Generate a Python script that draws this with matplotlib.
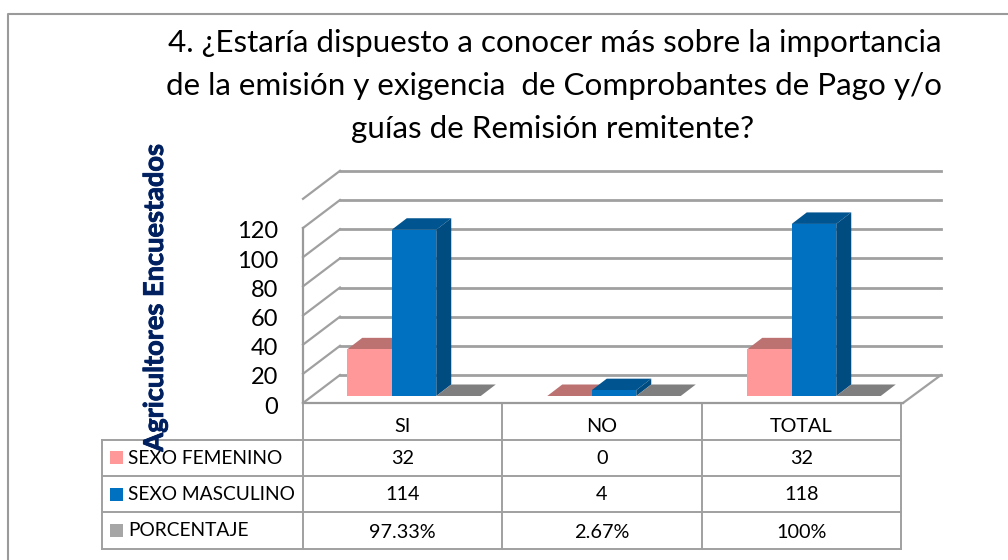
import matplotlib
matplotlib.use('Agg')
import matplotlib.pyplot as plt
import matplotlib.patheffects as pe
from matplotlib.patches import Polygon, Rectangle
from matplotlib.transforms import ScaledTranslation

plt.rcParams['font.family'] = ['Lato', 'DejaVu Sans']

categorias = ['SI', 'NO', 'TOTAL']
femenino = [32, 0, 32]
masculino = [114, 4, 118]
porcentaje = [0, 0, 0]
porcentaje_txt = ['97.33%', '2.67%', '100%']
series = ['SEXO FEMENINO', 'SEXO MASCULINO', 'PORCENTAJE']
ticks = [0, 20, 40, 60, 80, 100, 120]
titulo = ['4. ¿Estaría dispuesto a conocer más sobre la importancia',
          'de la emisión y exigencia  de Comprobantes de Pago y/o',
          'guías de Remisión remitente?']

# caras de cada serie: frente, arriba, lado
colores = [('#FF9999', '#BD7272', '#BD7272'),
           ('#0070C0', '#005490', '#004B80'),
           ('#A6A6A6', '#7F7F7F', '#7F7F7F')]

fig = plt.figure(figsize=(10.08, 5.6), dpi=100)

# capa en pixeles para titulo y tabla
fondo = fig.add_axes([0, 0, 1, 1])
fondo.set_xlim(0, 1008)
fondo.set_ylim(560, 0)
fondo.axis('off')

ax = fig.add_axes([303/1008, (560-403)/560, 600/1008, 175/560])
ax.set_xlim(0, 3)
ax.set_ylim(0, 120)
ax.patch.set_alpha(0)
for lado in ['top', 'right']:
    ax.spines[lado].set_visible(False)
for lado in ['left', 'bottom']:
    ax.spines[lado].set_color('#9A9A9A')
    ax.spines[lado].set_linewidth(1.6)
ax.set_xticks([])
ax.set_yticks(ticks)
ax.tick_params(axis='y', length=0, pad=18, labelsize=17, labelcolor='#000000')
bajar = ScaledTranslation(0, -2/100, fig.dpi_scale_trans)
for etiqueta in ax.get_yticklabels():
    etiqueta.set_verticalalignment('center_baseline')
    etiqueta.set_transform(etiqueta.get_transform() + bajar)

px_x = 3/600
px_y = 120/175
gris = '#A0A0A0'

# marco del grafico
fondo.plot([8, 8, 1008], [560, 14, 14], color='#9A9A9A', lw=1.5)

# rejilla con fondo y piso
for t in ticks + [140]:
    ax.plot([0, 37*px_x], [t, t + 28*px_y], color=gris, lw=1.6, clip_on=False, zorder=1)
    ax.plot([37*px_x, 3 + 38*px_x], [t + 28*px_y, t + 28*px_y], color=gris, lw=2, clip_on=False, zorder=1)
ax.plot([3, 3 + 38*px_x], [0, 28*px_y], color=gris, lw=1.6, clip_on=False, zorder=1)

# barras 3d
ancho = 44.5*px_x
base = 7*px_y
dx = 15*px_x
dy = 11.5*px_y
for i in range(len(categorias)):
    valores = [femenino[i], masculino[i], porcentaje[i]]
    izq = i + 0.5 + 11*px_x - 1.5*ancho
    for s in range(3):
        x0 = izq + s*ancho
        v = valores[s]
        ct, cs = colores[s][1], colores[s][2]
        z = 3 + s
        ax.add_patch(Polygon([(x0, base+v), (x0+ancho, base+v), (x0+ancho+dx, base+v+dy), (x0+dx, base+v+dy)],
                             fc=ct, ec='none', clip_on=False, zorder=z))
        if v > 0:
            ax.add_patch(Polygon([(x0+ancho, base), (x0+ancho+dx, base+dy), (x0+ancho+dx, base+v+dy), (x0+ancho, base+v)],
                                 fc=cs, ec='none', clip_on=False, zorder=z))
            ax.add_patch(Rectangle((x0, base), ancho, v, fc=colores[s][0], ec='none', clip_on=False, zorder=z))

# titulo
y_titulo = [43, 86, 129]
x_titulo = [555, 554, 553]
for linea, x, y in zip(titulo, x_titulo, y_titulo):
    fondo.text(x, y, linea, ha='center', va='center', fontsize=22.6, color='#000000')

fondo.text(155, 298, 'Agricultores Encuestados', rotation=90, ha='center', va='center',
           fontsize=19.6, fontweight='bold', color='#002060', zorder=5,
           path_effects=[pe.withStroke(linewidth=0.6, foreground='#002060')])

# tabla
col_x = [303, 502, 702, 901]
filas_y = [440, 476, 512, 549]
for y in filas_y:
    fondo.plot([102, col_x[-1]], [y, y], color=gris, lw=1.4)
fondo.plot([102, 102], [filas_y[0], filas_y[-1]], color=gris, lw=1.4)
for x in col_x:
    fondo.plot([x, x], [403, filas_y[-1]], color=gris, lw=1.4)

for i, c in enumerate(categorias):
    cx = (col_x[i] + col_x[i+1]) / 2
    fondo.text(cx, 427, c, ha='center', va='center', fontsize=14.3, color='#000000')
    fondo.text(cx, 459, str(femenino[i]), ha='center', va='center', fontsize=14.3, color='#000000')
    fondo.text(cx, 495, str(masculino[i]), ha='center', va='center', fontsize=14.3, color='#000000')
    fondo.text(cx, 532, porcentaje_txt[i], ha='center', va='center', fontsize=14.3, color='#000000')

for s, nombre in enumerate(series):
    y = [457, 494, 530][s]
    fondo.add_patch(Rectangle((110, y-6.5), 13, 13, fc=colores[s][0], ec='none'))
    fondo.text(128, y+1, nombre, ha='left', va='center', fontsize=13.8, color='#000000')

fig.savefig('out.png', dpi=100)
plt.close()
